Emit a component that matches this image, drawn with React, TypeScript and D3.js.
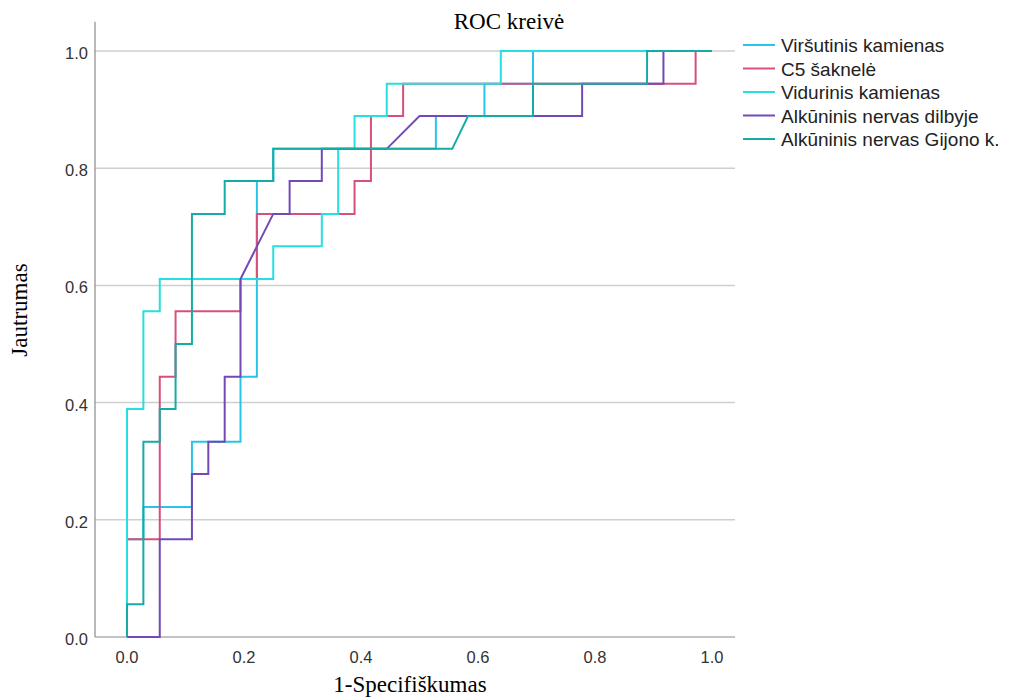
import React from 'react';
import * as d3 from 'd3';

// ROC points [1 - specificity, sensitivity]
const virsutinis: [number, number][] = [
  [0, 0], [0, 0.167], [0.028, 0.167], [0.028, 0.222], [0.111, 0.222], [0.111, 0.333],
  [0.194, 0.333], [0.194, 0.444], [0.222, 0.444], [0.222, 0.778], [0.25, 0.778],
  [0.25, 0.833], [0.528, 0.833], [0.528, 0.889], [0.611, 0.889], [0.611, 0.944],
  [0.694, 0.944], [0.694, 1], [1, 1],
];
const c5: [number, number][] = [
  [0, 0], [0, 0.167], [0.056, 0.167], [0.056, 0.444], [0.083, 0.444], [0.083, 0.556],
  [0.194, 0.556], [0.194, 0.611], [0.222, 0.611], [0.222, 0.722], [0.389, 0.722],
  [0.389, 0.778], [0.417, 0.778], [0.417, 0.889], [0.472, 0.889], [0.472, 0.944],
  [0.972, 0.944], [0.972, 1], [1, 1],
];
const vidurinis: [number, number][] = [
  [0, 0], [0, 0.389], [0.028, 0.389], [0.028, 0.556], [0.056, 0.556], [0.056, 0.611],
  [0.25, 0.611], [0.25, 0.667], [0.333, 0.667], [0.333, 0.722], [0.361, 0.722],
  [0.361, 0.833], [0.389, 0.833], [0.389, 0.889], [0.444, 0.889], [0.444, 0.944],
  [0.639, 0.944], [0.639, 1], [1, 1],
];
const dilbyje: [number, number][] = [
  [0, 0], [0.056, 0], [0.056, 0.167], [0.111, 0.167], [0.111, 0.278], [0.139, 0.278],
  [0.139, 0.333], [0.167, 0.333], [0.167, 0.444], [0.194, 0.444], [0.194, 0.611],
  [0.25, 0.722], [0.278, 0.722], [0.278, 0.778], [0.333, 0.778], [0.333, 0.833],
  [0.444, 0.833], [0.5, 0.889], [0.778, 0.889], [0.778, 0.944], [0.917, 0.944],
  [0.917, 1], [1, 1],
];
const gijono: [number, number][] = [
  [0, 0], [0, 0.056], [0.028, 0.056], [0.028, 0.333], [0.056, 0.333], [0.056, 0.389],
  [0.083, 0.389], [0.083, 0.5], [0.111, 0.5], [0.111, 0.722], [0.167, 0.722],
  [0.167, 0.778], [0.25, 0.778], [0.25, 0.833], [0.556, 0.833], [0.583, 0.889],
  [0.694, 0.889], [0.694, 0.944], [0.889, 0.944], [0.889, 1], [1, 1],
];

const seriesNames = [
  'Viršutinis kamienas',
  'C5 šaknelė',
  'Vidurinis kamienas',
  'Alkūninis nervas dilbyje',
  'Alkūninis nervas Gijono k.',
];
const seriesData = [virsutinis, c5, vidurinis, dilbyje, gijono];
const colors = ['#2cc3ea', '#d6507c', '#26dfe0', '#7249b6', '#14aca6'];

const ticks = [0, 0.2, 0.4, 0.6, 0.8, 1.0];

const width = 1011;
const height = 697;

export default function App() {
  const x = d3.scaleLinear().domain([0, 1]).range([127, 712]);
  const y = d3.scaleLinear().domain([0, 1]).range([637, 51]);
  const left = 95;
  const right = 735;
  const top = y(1.05);

  const line = d3.line<[number, number]>()
    .x(d => x(d[0]))
    .y(d => y(d[1]));

  const sans = '"Liberation Sans", Arial, sans-serif';
  const serif = '"Liberation Serif", "Times New Roman", serif';

  return (
    <svg width={width} height={height} style={{ position: 'absolute', left: 0, top: 0, background: '#fff' }}>
      <text x={509} y={29} textAnchor="middle" fontFamily={serif} fontSize={23} fill="#000">ROC kreivė</text>

      {/* gridlines */}
      {ticks.filter(t => t > 0).map(t => (
        <line key={t} x1={left} x2={right} y1={y(t)} y2={y(t)} stroke="#cfcfcf" strokeWidth={1.5} />
      ))}

      {/* axes */}
      <line x1={left} x2={left} y1={top} y2={y(0)} stroke="#8a8a8a" strokeWidth={1.2} />
      <line x1={left} x2={right} y1={y(0)} y2={y(0)} stroke="#8a8a8a" strokeWidth={1.2} />

      {ticks.map(t => (
        <text key={'y' + t} x={88} y={y(t) + 8} textAnchor="end" fontFamily={sans} fontSize={16.5} fill="#333">
          {d3.format('.1f')(t)}
        </text>
      ))}
      {ticks.map(t => (
        <text key={'x' + t} x={x(t)} y={663} textAnchor="middle" fontFamily={sans} fontSize={16.5} fill="#333">
          {d3.format('.1f')(t)}
        </text>
      ))}

      <text x={410} y={692} textAnchor="middle" fontFamily={serif} fontSize={23} fill="#000">1-Specifiškumas</text>
      <text transform={`translate(27, 310) rotate(-90)`} textAnchor="middle" fontFamily={serif} fontSize={23} fill="#000">Jautrumas</text>

      {/* curves */}
      {seriesData.map((d, i) => (
        <path key={seriesNames[i]} d={line(d) || ''} fill="none" stroke={colors[i]} strokeWidth={2} />
      ))}

      {/* legend */}
      {seriesNames.map((name, i) => {
        const ly = 45 + i * 23.5;
        return (
          <g key={name}>
            <line x1={743} x2={775} y1={ly} y2={ly} stroke={colors[i]} strokeWidth={2} />
            <text x={781} y={ly + 7} fontFamily={sans} fontSize={19} fill="#222">{name}</text>
          </g>
        );
      })}
    </svg>
  );
}
